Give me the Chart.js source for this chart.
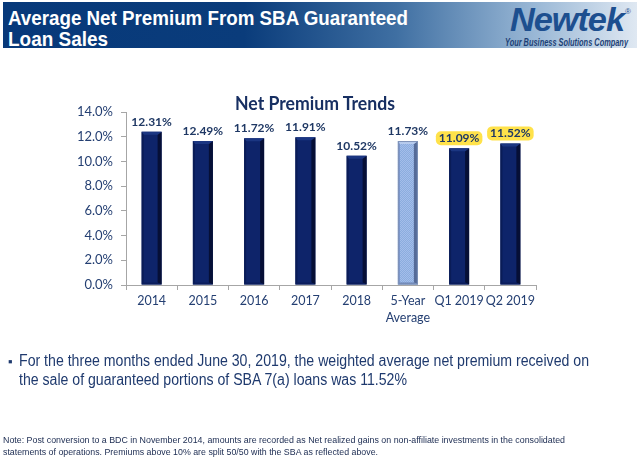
<!DOCTYPE html>
<html lang="en">
<head>
<meta charset="UTF-8">
<title>Net Premium Trends</title>
<script src="https://cdn.jsdelivr.net/npm/chart.js"></script>
<style>
  body { margin: 0; background: #fff; width: 640px; height: 461px; overflow: hidden; position: relative;
         font-family: 'Liberation Sans', Arial, sans-serif; }
  .abs { position: absolute; white-space: nowrap; transform-origin: 0 0; line-height: 1; }
  #band { position: absolute; left: 3px; top: 2px; width: 634px; height: 46px;
          background: linear-gradient(to right, #07397a 0%, #0a3c7b 38%, #3f6fa2 62%, #9ab8d6 84%, #dfe8f2 100%); }
  #chart { position: absolute; left: 0; top: 0; }
</style>
</head>
<body>
<div id="band"></div>
<div class="abs fit" data-w="400" style="left:8px; top:7px; font-size:21px; font-weight:bold; color:#fff;">Average Net Premium From SBA Guaranteed</div>
<div class="abs fit" data-w="100" style="left:8px; top:28px; font-size:21px; font-weight:bold; color:#fff;">Loan Sales</div>
<div class="abs fit" data-w="114" style="left:510px; top:3px; font-size:33px; font-weight:bold; font-style:italic; color:#1d4f8f; letter-spacing:-1px;">Newtek</div>
<div class="abs" style="left:625px; top:8px; font-size:8px; color:#1d4f8f;">®</div>
<div class="abs fit" data-w="123" style="left:505px; top:38px; font-size:10px; font-weight:bold; font-style:italic; color:#1c3f75;">Your Business Solutions Company</div>

<canvas id="chart" width="640" height="461"></canvas>

<div class="abs fit" data-w="160" style="left:235px; top:93px; font-family:Lato; font-size:19px; font-weight:bold; color:#172f62;">Net Premium Trends</div>

<div class="abs" style="left:8px; top:355px; font-size:13px; color:#1f3a6e;">▪</div>
<div class="abs fit" data-w="570" style="left:19px; top:353px; font-size:16px; color:#1f3a6e;">For the three months ended June 30, 2019, the weighted average net premium received on</div>
<div class="abs fit" data-w="388" style="left:19px; top:372px; font-size:16px; color:#1f3a6e;">the sale of guaranteed portions of SBA 7(a) loans was 11.52%</div>

<div class="abs fit" data-w="562" style="left:3px; top:436px; font-size:9px; color:#1a2a50;">Note: Post conversion to a BDC in November 2014, amounts are recorded as Net realized gains on non-affiliate investments in the consolidated</div>
<div class="abs fit" data-w="375" style="left:3px; top:448px; font-size:9px; color:#1a2a50;">statements of operations. Premiums above 10% are split 50/50 with the SBA as reflected above.</div>

<script>
// chart data
const categories = ['2014', '2015', '2016', '2017', '2018', ['5-Year', 'Average'], 'Q1 2019', 'Q2 2019'];
const barValues = [12.4, 11.65, 11.87, 11.95, 10.46, 11.65, 11.06, 11.46];
const valueLabels = ['12.31%', '12.49%', '11.72%', '11.91%', '10.52%', '11.73%', '11.09%', '11.52%'];
const highlighted = [false, false, false, false, false, false, true, true];
const averageIndex = 5;

// squeeze the html text to the widths seen in the slide
document.querySelectorAll('.fit').forEach(el => {
    const w = el.getBoundingClientRect().width;
    el.style.transform = 'scaleX(' + (parseFloat(el.dataset.w) / w) + ')';
});

// dotted light blue fill for the average bar
const pc = document.createElement('canvas');
pc.width = 2; pc.height = 2;
const pctx = pc.getContext('2d');
pctx.fillStyle = '#8badde'; pctx.fillRect(0, 0, 2, 2);
pctx.fillStyle = '#a4bdea'; pctx.fillRect(0, 0, 1, 1); pctx.fillRect(1, 1, 1, 1);
const ctx = document.getElementById('chart').getContext('2d');
const avgPattern = ctx.createPattern(pc, 'repeat');

const barColors = barValues.map((v, i) => i === averageIndex ? avgPattern : '#0e246a');

// 3d bevel on bars + value labels
const bevelPlugin = {
    id: 'bevel',
    afterDatasetsDraw(chart) {
        const c = chart.ctx;
        const meta = chart.getDatasetMeta(0);
        meta.data.forEach((bar, i) => {
            const p = bar.getProps(['x', 'y', 'base', 'width'], true);
            const l = p.x - p.width / 2, r = p.x + p.width / 2;
            const avg = i === averageIndex;
            const side = 4, top = 3, lt = 2;
            c.save();
            // right side
            c.fillStyle = avg ? '#556b98' : '#060f36';
            c.beginPath();
            c.moveTo(r - side, p.y + top); c.lineTo(r, p.y); c.lineTo(r, p.base); c.lineTo(r - side, p.base - 2);
            c.closePath(); c.fill();
            // top
            c.fillStyle = avg ? '#b7cbee' : '#1b3682';
            c.beginPath();
            c.moveTo(l, p.y); c.lineTo(r, p.y); c.lineTo(r - side, p.y + top); c.lineTo(l + lt, p.y + top);
            c.closePath(); c.fill();
            // left side
            c.fillStyle = avg ? '#7892c6' : '#0a1c57';
            c.beginPath();
            c.moveTo(l, p.y); c.lineTo(l + lt, p.y + top); c.lineTo(l + lt, p.base - 2); c.lineTo(l, p.base);
            c.closePath(); c.fill();
            // bottom
            c.fillStyle = avg ? '#6b84b5' : '#0b1d5c';
            c.beginPath();
            c.moveTo(l, p.base); c.lineTo(l + lt, p.base - 2); c.lineTo(r - side, p.base - 2); c.lineTo(r, p.base);
            c.closePath(); c.fill();
            if (avg) {
                c.strokeStyle = '#7f93b8';
                c.lineWidth = 1;
                c.strokeRect(l + 0.5, p.y + 0.5, p.width - 1, p.base - p.y - 1);
            }

            // value label
            const txt = valueLabels[i];
            const cy = p.y - 10;
            c.font = 'bold 12px Lato';
            c.textAlign = 'center';
            c.textBaseline = 'middle';
            if (highlighted[i]) {
                const w = c.measureText(txt).width;
                c.fillStyle = '#ffe24a';
                c.beginPath();
                c.roundRect(p.x - w / 2 - 3, cy - 7, w + 6, 14, 5);
                c.fill();
            }
            c.fillStyle = '#1f3864';
            c.fillText(txt, p.x, cy);
            c.restore();
        });
    }
};

new Chart(ctx, {
    type: 'bar',
    data: {
        labels: categories,
        datasets: [{
            data: barValues,
            backgroundColor: barColors,
            borderWidth: 0,
            barPercentage: 0.39,
            categoryPercentage: 1.0
        }]
    },
    options: {
        responsive: false,
        animation: false,
        devicePixelRatio: 1,
        layout: { padding: { left: 60, right: 104, top: 112, bottom: 126 } },
        plugins: {
            legend: { display: false },
            tooltip: { enabled: false }
        },
        scales: {
            x: {
                afterFit: s => { s.height = 50; },
                grid: { drawOnChartArea: false, drawTicks: true, tickLength: 5, color: '#a6a6a6', offset: true },
                border: { color: '#a6a6a6' },
                ticks: {
                    color: '#243f72',
                    font: { family: 'Lato', size: 12.5, lineHeight: 1.35 },
                    padding: 3,
                    maxRotation: 0,
                    autoSkip: false
                }
            },
            y: {
                min: 0,
                max: 14,
                afterFit: s => { s.width = 66; },
                grid: { drawOnChartArea: false, drawTicks: true, tickLength: 5, color: '#a6a6a6' },
                border: { color: '#a6a6a6' },
                ticks: {
                    stepSize: 2,
                    color: '#243f72',
                    font: { family: 'Lato', size: 13 },
                    padding: 8,
                    callback: v => v.toFixed(1) + '%'
                }
            }
        }
    },
    plugins: [bevelPlugin]
});
</script>
</body>
</html>
